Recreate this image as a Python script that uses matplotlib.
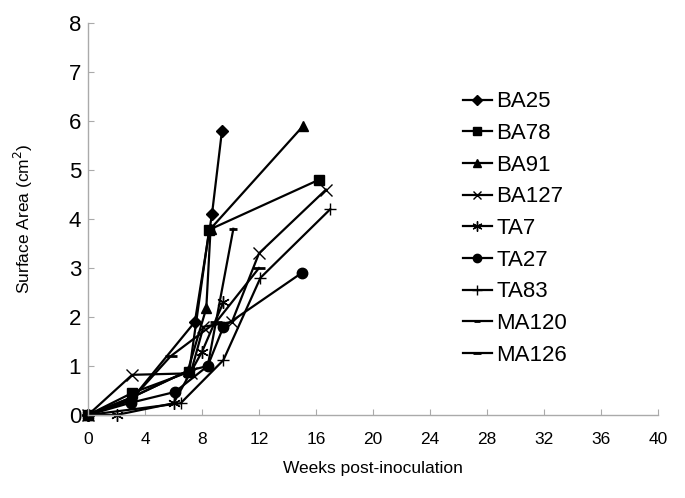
import matplotlib
matplotlib.use("Agg")
import matplotlib.pyplot as plt

plt.rcParams['font.family'] = ['Liberation Sans', 'DejaVu Sans']

names = ["BA25", "BA78", "BA91", "BA127", "TA7", "TA27", "TA83", "MA120", "MA126"]
weeks = {
    "BA25":  [0, 3.0, 7.5, 8.7, 9.4],
    "BA78":  [0, 3.1, 7.1, 8.5, 16.2],
    "BA91":  [0, 3.0, 7.0, 8.3, 8.6, 15.1],
    "BA127": [0, 3.1, 7.2, 8.1, 10.1, 12.0, 16.7],
    "TA7":   [0, 2.0, 6.0, 8.0, 9.5],
    "TA27":  [0, 3.0, 6.1, 8.4, 9.5, 15.0],
    "TA83":  [0, 6.5, 9.5, 12.1, 17.0],
    "MA120": [0, 3.0, 7.0, 8.4, 10.2],
    "MA126": [0, 3.0, 5.8, 9.0, 12.0],
}
area = {
    "BA25":  [0, 0.30, 1.90, 4.10, 5.80],
    "BA78":  [0, 0.45, 0.88, 3.78, 4.80],
    "BA91":  [0, 0.35, 0.90, 2.18, 3.80, 5.90],
    "BA127": [0, 0.82, 0.85, 1.80, 1.90, 3.30, 4.60],
    "TA7":   [0, 0.00, 0.24, 1.29, 2.30],
    "TA27":  [0, 0.25, 0.47, 1.00, 1.80, 2.90],
    "TA83":  [0, 0.24, 1.12, 2.80, 4.20],
    "MA120": [0, 0.35, 0.90, 1.00, 3.80],
    "MA126": [0, 0.30, 1.20, 1.90, 3.00],
}
x_ticks = [0, 4, 8, 12, 16, 20, 24, 28, 32, 36, 40]
y_ticks = [0, 1, 2, 3, 4, 5, 6, 7, 8]

styles = {
    "BA25":  dict(marker='D', ms=6, mfc='black'),
    "BA78":  dict(marker='s', ms=7.5, mfc='black'),
    "BA91":  dict(marker='^', ms=7.5, mfc='black'),
    "BA127": dict(marker='x', ms=8, mfc='none', mew=1.0),
    "TA7":   dict(marker=(6, 2, 0), ms=9, mew=1.0),
    "TA27":  dict(marker='o', ms=7.5, mfc='black'),
    "TA83":  dict(marker='+', ms=9, mew=1.0),
    "MA120": dict(marker='_', ms=6, mew=2),
    "MA126": dict(marker='_', ms=8, mew=2),
}

fig = plt.figure(figsize=(6.85, 4.98), dpi=100)
ax = fig.add_axes([0.1285, 0.1667, 0.8321, 0.7871])

for n in names:
    ax.plot(weeks[n], area[n], color='black', lw=1.6, label=n, mec='black', **styles[n])

ax.set_xlim(0, 40)
ax.set_ylim(0, 8)
ax.set_xticks(x_ticks)
ax.set_yticks(y_ticks)
ax.tick_params(axis='x', direction='in', length=4, color='#aaaaaa', labelsize=12.5, pad=12)
ax.tick_params(axis='y', direction='in', length=4, color='#aaaaaa', labelsize=16, pad=5)
for s in ['top', 'right']:
    ax.spines[s].set_visible(False)
for s in ['left', 'bottom']:
    ax.spines[s].set_color('#aaaaaa')
    ax.spines[s].set_linewidth(1.0)
for l in ax.lines:
    l.set_clip_on(False)

ax.set_xlabel("Weeks post-inoculation", fontsize=12.5, labelpad=10)
ax.set_ylabel("Surface Area (cm$^2$)", fontsize=12.5, labelpad=24)

leg = ax.legend(loc='upper left', bbox_to_anchor=(0.642, 0.848), frameon=False,
                fontsize=16, handlelength=1.3, handletextpad=0.2,
                labelspacing=0.48, borderaxespad=0, markerscale=0.8)

fig.savefig("out.png", dpi=100)
